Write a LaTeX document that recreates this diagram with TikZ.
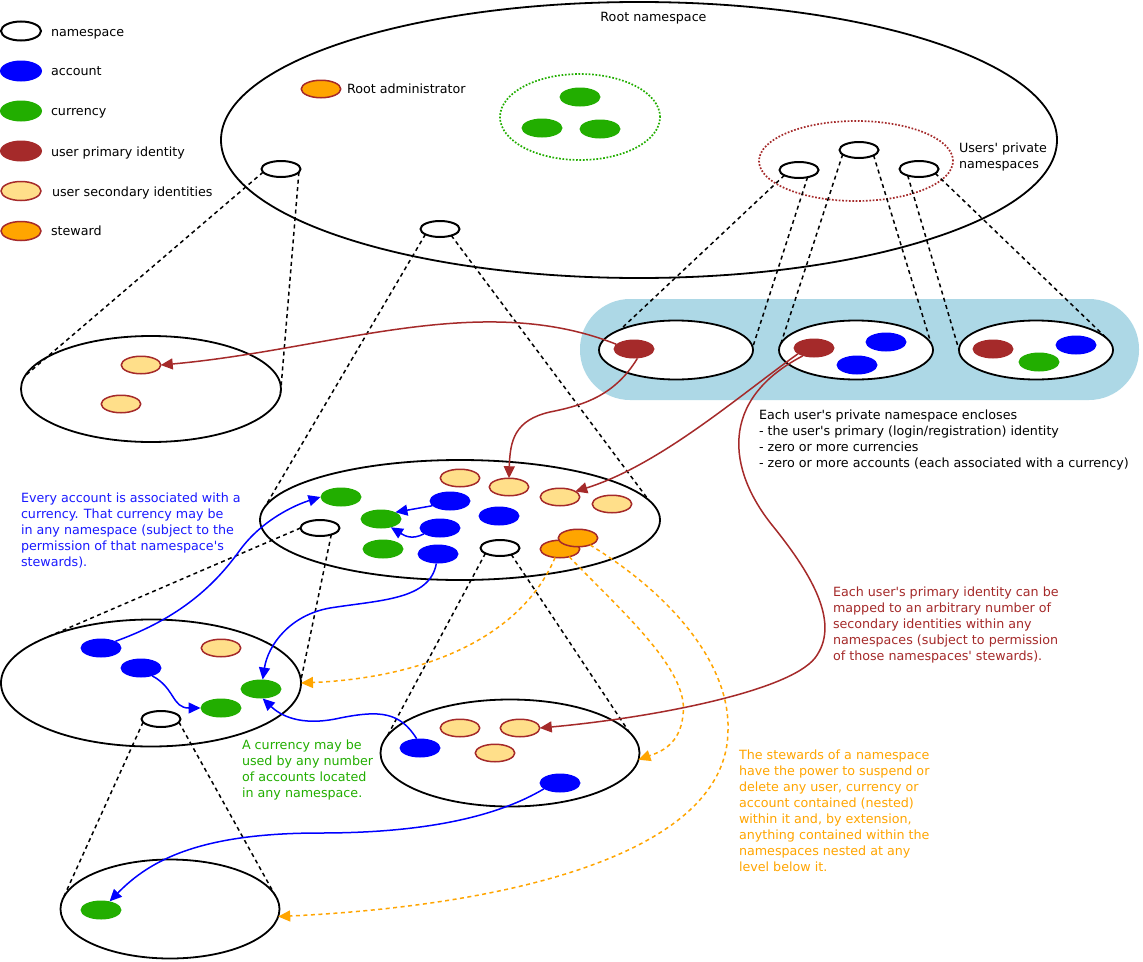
\documentclass[tikz,border=0pt]{standalone}
\usepackage{fontspec}
\setmainfont{DejaVu Sans}[Ligatures=TeXOff]
\usetikzlibrary{shapes.geometric,arrows.meta}
\definecolor{accblue}{HTML}{0000FF}
\definecolor{curgreen}{HTML}{22AE00}
\definecolor{brownc}{HTML}{A52A2A}
\definecolor{secc}{HTML}{FFDF8A}
\definecolor{stwc}{HTML}{FFA500}
\definecolor{bandc}{HTML}{ADD8E6}
\definecolor{bluetext}{HTML}{1A1AFF}
\begin{document}
\begin{tikzpicture}[x=1pt,y=-1pt,
  txt/.style={font=\fontsize{12.7}{15.9}\selectfont, inner sep=0, outer sep=0},
  para/.style={txt, align=left, anchor=north west},
  nsp/.style={ellipse, draw, line width=1.8pt, inner sep=0, outer sep=0},
  sns/.style={nsp, line width=2pt, minimum width=39pt, minimum height=16pt},
  item/.style={ellipse, inner sep=0, outer sep=0, minimum width=41pt, minimum height=19pt},
  acc/.style={item, fill=accblue},
  cur/.style={item, fill=curgreen},
  prim/.style={item, fill=brownc},
  sec/.style={item, fill=secc, draw=brownc, line width=1.5pt, minimum width=39.5pt, minimum height=17.5pt},
  stw/.style={sec, fill=stwc},
  dotl/.style={ellipse, inner sep=0, outer sep=0, line width=1.7pt, dash pattern=on 1.7pt off 1.7pt},
  dsh/.style={draw, line width=1.5pt, dash pattern=on 4pt off 3.5pt},
  tipa/.style={-{Triangle[length=12pt,width=11pt]}},
  barr/.style={draw=brownc, line width=1.5pt, tipa},
  blarr/.style={draw=accblue, line width=1.5pt, tipa},
  oarr/.style={draw=stwc, line width=1.5pt, dash pattern=on 4pt off 3.5pt, tipa}
]
\useasboundingbox (0,0) rectangle (1143,961);
\fill[white] (0,0) rectangle (1143,961);

% root namespace
\node[nsp, minimum width=836pt, minimum height=276pt] (root) at (639,140) {};
\node[txt, anchor=base] (roott) at (653.5,21.5) {Root namespace};

% legend
\node[nsp, line width=2pt, minimum width=40pt, minimum height=19pt] (lgns) at (21,31) {};
\node[txt, anchor=base west] (lgnst) at (51,36) {namespace};
\node[acc, minimum width=42pt, minimum height=21pt] (lgacc) at (21,71) {};
\node[txt, anchor=base west] (lgacct) at (51,75.5) {account};
\node[cur, minimum width=42pt, minimum height=21pt] (lgcur) at (21,111) {};
\node[txt, anchor=base west] (lgcurt) at (51,115.5) {currency};
\node[prim, minimum width=42pt, minimum height=21pt] (lgprim) at (21,151) {};
\node[txt, anchor=base west] (lgprimt) at (51,156) {user primary identity};
\node[sec, minimum width=40pt, minimum height=19pt] (lgsec) at (21,191) {};
\node[txt, anchor=base west] (lgsect) at (52,196) {user secondary identities};
\node[stw, minimum width=40pt, minimum height=19pt] (lgstw) at (21,231) {};
\node[txt, anchor=base west] (lgstwt) at (51,235.5) {steward};

% root contents
\node[stw] (radm) at (321,89) {};
\node[txt, anchor=base west] (radmt) at (347,93.5) {Root administrator};
\node[dotl, draw=curgreen, minimum width=160pt, minimum height=86pt] (gdot) at (580,117) {};
\node[cur] (gc1) at (580,97) {};
\node[cur] (gc2) at (542,128) {};
\node[cur] (gc3) at (600,129) {};
\node[dotl, draw=brownc, minimum width=194pt, minimum height=80pt] (udot) at (856,161) {};
\node[sns] (p1s) at (799,170) {};
\node[sns] (p2s) at (859,150) {};
\node[sns] (p3s) at (919,169) {};
\node[para] (uprivt) at (959,141.8) {\strut Users' private\\namespaces};
\node[sns] (r1s) at (281,169) {};
\node[sns] (r2s) at (440,229) {};

% private namespaces band
\node[fill=bandc, rounded corners=50pt, minimum width=559pt, minimum height=101pt, inner sep=0] (band) at (859.5,349.5) {};
\node[nsp, fill=white, minimum width=154pt, minimum height=59pt] (E1) at (676,350) {};
\node[nsp, fill=white, minimum width=154pt, minimum height=59pt] (E2) at (856,350) {};
\node[nsp, fill=white, minimum width=154pt, minimum height=59pt] (E3) at (1036,350) {};
\node[prim] (e1p) at (634,349) {};
\node[prim] (e2p) at (814,348) {};
\node[acc] (e2a1) at (886,342) {};
\node[acc] (e2a2) at (857,365) {};
\node[prim] (e3p) at (993,349) {};
\node[acc] (e3a) at (1076,345) {};
\node[cur] (e3c) at (1039,362) {};

% other namespaces
\node[nsp, minimum width=260pt, minimum height=106pt] (L) at (151,389) {};
\node[sec] (ls1) at (141,365) {};
\node[sec] (ls2) at (121,404) {};

\node[nsp, minimum width=400pt, minimum height=120pt] (M) at (460,520) {};
\node[sec] (mss1) at (460,478) {};
\node[sec] (mss2) at (509,487) {};
\node[sec] (mss3) at (560,497) {};
\node[sec] (mss4) at (612,504) {};
\node[cur] (mc1) at (341,497) {};
\node[cur] (mc2) at (381,519) {};
\node[cur] (mc3) at (383,549) {};
\node[acc] (ma1) at (450,501) {};
\node[acc] (ma2) at (499,516) {};
\node[acc] (ma3) at (440,528) {};
\node[acc] (ma4) at (438,554) {};
\node[sns] (ms1) at (320,528) {};
\node[sns] (ms2) at (500,548) {};
\node[stw] (st1) at (560,549) {};
\node[stw] (st2) at (578,538) {};

\node[nsp, minimum width=300pt, minimum height=127pt] (LL) at (151,683) {};
\node[acc] (la1) at (101,648) {};
\node[acc] (la2) at (141,668) {};
\node[sec] (lls1) at (221,648) {};
\node[cur] (lc1) at (261,689) {};
\node[cur] (lc2) at (221,708) {};
\node[sns] (lls) at (161,719) {};

\node[nsp, minimum width=259pt, minimum height=107pt] (B) at (510,753) {};
\node[sec] (bs1) at (460,728) {};
\node[sec] (bs2) at (520,728) {};
\node[sec] (bs3) at (495,753) {};
\node[acc] (ba1) at (420,748) {};
\node[acc] (ba2) at (560,783) {};

\node[nsp, minimum width=219pt, minimum height=99pt] (BL) at (170,909) {};
\node[cur] (bc) at (101,910) {};

% dashed nesting lines
\draw[dsh] (r1s.190) -- (L.174);
\draw[dsh] (r1s.350) -- (L.358);
\draw[dsh] (r2s.200) -- (M.176);
\draw[dsh] (r2s.330) -- (M.6);
\draw[dsh] (ms1.180) -- (LL.157);
\draw[dsh] (ms1.330) -- (LL.1.5);
\draw[dsh] (ms2.200) -- (B.172);
\draw[dsh] (ms2.330) -- (B.10);
\draw[dsh] (lls.190) -- (BL.174);
\draw[dsh] (lls.350) -- (BL.5);
\draw[dsh] (p1s.200) -- (E1.160);
\draw[dsh] (p1s.320) -- (E1.2);
\draw[dsh] (p2s.195) -- (E2.175);
\draw[dsh] (p2s.340) -- (E2.5);
\draw[dsh] (p3s.210) -- (E3.180);
\draw[dsh] (p3s.345) -- (E3.8);

% brown arrows
\draw[barr] (e1p.165) .. controls (480,290) and (330,350) .. (ls1.east);
\draw[barr] (e1p.290) .. controls (615,395) and (585,405) .. (550,412) .. controls (515,420) and (510,440) .. (mss2.north);
\draw[barr] (e2p.200) .. controls (740,395) and (660,465) .. (mss3.20);
\draw[barr] (e2p.215) .. controls (718,400) and (728,470) .. (772,525) .. controls (815,578) and (840,625) .. (815,658) .. controls (788,692) and (650,718) .. (bs2.east);

% blue arrows
\draw[blarr] (la1.25) .. controls (180,618) and (215,585) .. (240,550) .. controls (262,520) and (295,505) .. (mc1.west);
\draw[blarr] (la2.-35) .. controls (175,688) and (172,708) .. (lc2.west);
\draw[blarr] (ma4.-100) .. controls (430,600) and (380,600) .. (330,608) .. controls (290,615) and (268,645) .. (lc1.80);
\draw[blarr] (ba1.110) .. controls (400,712) and (380,710) .. (340,718) .. controls (300,727) and (280,715) .. (lc1.-80);
\draw[blarr] (ba2.200) .. controls (500,815) and (430,833) .. (320,833) .. controls (200,833) and (150,860) .. (bc.45);
\draw[blarr] (ma1.195) -- (mc2.25);
\draw[blarr] (ma3.200) .. controls (412,540) and (405,536) .. (mc2.-40);

% orange (steward) arrows
\draw[oarr] (st1.240) .. controls (520,640) and (420,678) .. (LL.east);
\draw[oarr] (st1.-40) .. controls (620,610) and (690,670) .. (683,715) .. controls (680,745) and (660,752) .. (B.-3);
\draw[oarr] (st2.-30) .. controls (680,600) and (730,670) .. (728,730) .. controls (728,850) and (520,905) .. (BL.-4);

% annotations
\node[para] (t1) at (21,491.8) {\color{bluetext}\strut Every account is associated with a\\\color{bluetext}currency. That currency may be\\\color{bluetext}in any namespace (subject to the\\\color{bluetext}permission of that namespace's\\\color{bluetext}stewards).};
\node[para] (t2) at (759,408.3) {\strut Each user's private namespace encloses\\- the user's primary (login/registration) identity\\- zero or more currencies\\- zero or more accounts (each associated with a currency)};
\node[para, text=curgreen] (t3) at (242,738.8) {\strut A currency may be\\used by any number\\of accounts located\\in any namespace.};
\node[para, text=brownc] (t4) at (833,585.5) {\strut Each user's primary identity can be\\mapped to an arbitrary number of\\secondary identities within any\\namespaces (subject to permission\\of those namespaces' stewards).};
\node[para, text=stwc] (t5) at (739,748.8) {\strut The stewards of a namespace\\have the power to suspend or\\delete any user, currency or\\account contained (nested)\\within it and, by extension,\\anything contained within the\\namespaces nested at any\\level below it.};
\end{tikzpicture}
\end{document}
